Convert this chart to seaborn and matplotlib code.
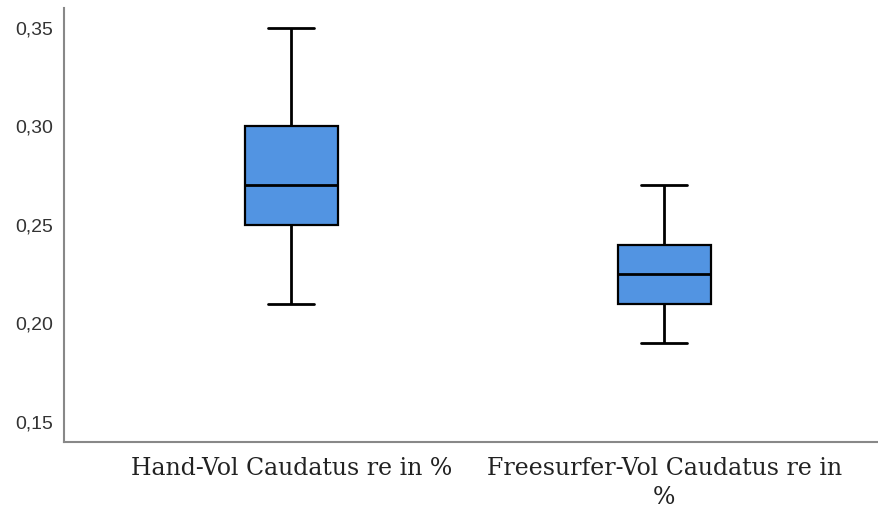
import numpy as np
import pandas as pd
import seaborn as sns
import matplotlib
matplotlib.use("Agg")
import matplotlib.pyplot as plt
from matplotlib.ticker import FixedLocator, FuncFormatter

# Five-number summaries (min, Q1, median, Q3, max)
categories = ["Hand-Vol Caudatus re in %", "Freesurfer-Vol Caudatus re in\n%"]
hand_values = [0.21, 0.25, 0.27, 0.30, 0.35]
freesurfer_values = [0.19, 0.21, 0.225, 0.24, 0.27]
yticks = [0.15, 0.20, 0.25, 0.30, 0.35]

df = pd.DataFrame({
    "group": [categories[0]] * len(hand_values) + [categories[1]] * len(freesurfer_values),
    "value": hand_values + freesurfer_values,
})

sns.set_style("white")
fig = plt.figure(figsize=(8.79, 5.13), dpi=100)
ax = fig.add_axes([0.0728, 0.1384, 0.9272, 0.846])

sns.boxplot(data=df, x="group", y="value", order=categories, ax=ax,
            whis=(0, 100), width=0.25, color="#5294E2", saturation=1,
            linewidth=2, linecolor="black",
            boxprops=dict(edgecolor="black", linewidth=1.6),
            capprops=dict(color="black"), whiskerprops=dict(color="black"),
            medianprops=dict(color="black"))

ax.set_xlim(-0.609, 1.576)
ax.set_ylim(0.1398, 0.360)
ax.yaxis.set_major_locator(FixedLocator(yticks))
ax.yaxis.set_major_formatter(FuncFormatter(lambda v, p: f"{v:.2f}".replace(".", ",")))
ax.set_xlabel("")
ax.set_ylabel("")
ax.tick_params(axis="both", length=0)
ax.tick_params(axis="y", labelsize=14, labelcolor="#333333", pad=8)
for lbl in ax.get_yticklabels():
    lbl.set_fontfamily("Liberation Sans")
for lbl in ax.get_xticklabels():
    lbl.set_fontfamily("DejaVu Serif")
    lbl.set_fontsize(17)
    lbl.set_fontweight("light")
    lbl.set_color("#222222")
    lbl.set_linespacing(1.3)
ax.tick_params(axis="x", pad=11)
for s in ["top", "right"]:
    ax.spines[s].set_visible(False)
for s in ["left", "bottom"]:
    ax.spines[s].set_color("#888888")
    ax.spines[s].set_linewidth(1.5)

fig.savefig("out.png", dpi=100)
